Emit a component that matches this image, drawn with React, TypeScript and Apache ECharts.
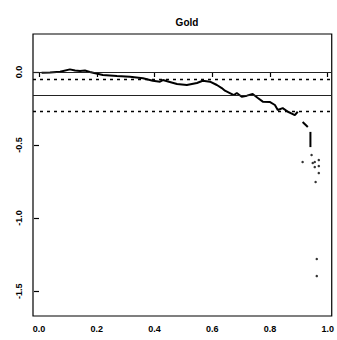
import React, { useEffect, useRef } from "react";
import * as echarts from "echarts";

// Cumulative path (x in [0,1], value on the y scale)
const pathX = [0.009, 0.038, 0.073, 0.107, 0.125, 0.142, 0.159, 0.176, 0.221, 0.27, 0.315, 0.36, 0.394, 0.419, 0.429, 0.453, 0.478, 0.512, 0.547, 0.567, 0.592, 0.616, 0.633, 0.644, 0.661, 0.675, 0.685, 0.702, 0.72, 0.74, 0.758, 0.775, 0.799, 0.817, 0.827, 0.844, 0.862, 0.879, 0.886, 0.896];
const pathY = [-0.005, -0.003, 0.002, 0.018, 0.01, 0.007, 0.01, 0.0, -0.021, -0.027, -0.032, -0.043, -0.06, -0.066, -0.055, -0.068, -0.082, -0.089, -0.075, -0.06, -0.066, -0.089, -0.11, -0.128, -0.144, -0.158, -0.144, -0.169, -0.162, -0.151, -0.178, -0.203, -0.205, -0.226, -0.26, -0.247, -0.272, -0.288, -0.295, -0.272];

// Short pieces near the end of the range
const tailAX = [0.913, 0.931];
const tailAY = [-0.342, -0.377];
const tailBX = [0.94, 0.94];
const tailBY = [-0.41, -0.514];

// Isolated points at the end
const dotX = [0.944, 0.948, 0.955, 0.955, 0.969, 0.969, 0.969, 0.958, 0.913, 0.962, 0.962];
const dotY = [-0.568, -0.623, -0.616, -0.651, -0.603, -0.644, -0.692, -0.753, -0.616, -1.28, -1.397];

// Horizontal reference levels
const solidLevels = [0.0, -0.157];
const dashedLevels = [-0.046, -0.27];

// Axis ticks
const xTicks = [0, 0.2, 0.4, 0.6, 0.8, 1.0];
const yTicks = [-1.5, -1.0, -0.5, 0.0];

const pairs = (xs: number[], ys: number[]) => xs.map((x, i) => [x, ys[i]]);

export default function App() {
  const ref = useRef<HTMLDivElement>(null);

  useEffect(() => {
    if (!ref.current) return;
    const chart = echarts.init(ref.current, undefined, { renderer: "svg" });
    const font = "Liberation Sans, Arial, sans-serif";
    const lineSeries = (data: number[][]) => ({
      type: "line",
      data,
      symbol: "none",
      lineStyle: { color: "#000", width: 2 },
      silent: true,
    });
    chart.setOption({
      animation: false,
      backgroundColor: "#fff",
      title: {
        text: "Gold",
        left: 182,
        top: 12,
        textAlign: "center",
        textStyle: { fontFamily: font, fontSize: 10, fontWeight: "bold", color: "#000" },
      },
      grid: {
        left: 33,
        top: 34,
        right: 5,
        bottom: 24,
        show: true,
        borderColor: "#000",
        borderWidth: 1.2,
        backgroundColor: "transparent",
      },
      xAxis: {
        type: "value",
        min: -0.0208,
        max: 1.0138,
        axisLine: { show: false },
        splitLine: { show: false },
        axisTick: { show: true, inside: false, length: 5, customValues: xTicks, lineStyle: { color: "#000", width: 1.2 } },
        axisLabel: {
          customValues: xTicks,
          formatter: (v: number) => v.toFixed(1),
          margin: 8,
          fontFamily: font,
          fontSize: 9,
          fontWeight: "bold",
          color: "#000",
        },
      },
      yAxis: {
        type: "value",
        min: -1.67,
        max: 0.26,
        axisLine: { show: false },
        splitLine: { show: false },
        axisTick: { show: true, inside: false, length: 5, customValues: yTicks, lineStyle: { color: "#000", width: 1.2 } },
        axisLabel: {
          customValues: yTicks,
          formatter: (v: number) => v.toFixed(1),
          rotate: 90,
          margin: 10,
          fontFamily: font,
          fontSize: 9,
          fontWeight: "bold",
          color: "#000",
        },
      },
      series: [
        {
          ...lineSeries(pairs(pathX, pathY)),
          markLine: {
            silent: true,
            symbol: "none",
            label: { show: false },
            data: [
              ...solidLevels.map((v) => ({ yAxis: v, lineStyle: { color: "#222", width: 1, type: "solid" } })),
              ...dashedLevels.map((v) => ({ yAxis: v, lineStyle: { color: "#000", width: 1.3, type: [3, 4] } })),
            ],
          },
        },
        lineSeries(pairs(tailAX, tailAY)),
        lineSeries(pairs(tailBX, tailBY)),
        {
          type: "scatter",
          data: pairs(dotX, dotY),
          symbol: "circle",
          symbolSize: 2.5,
          itemStyle: { color: "#000" },
          silent: true,
        },
      ],
    });
    return () => chart.dispose();
  }, []);

  return (
    <div
      ref={ref}
      style={{ position: "fixed", left: 0, top: 0, width: 337, height: 340, background: "#fff" }}
    />
  );
}
